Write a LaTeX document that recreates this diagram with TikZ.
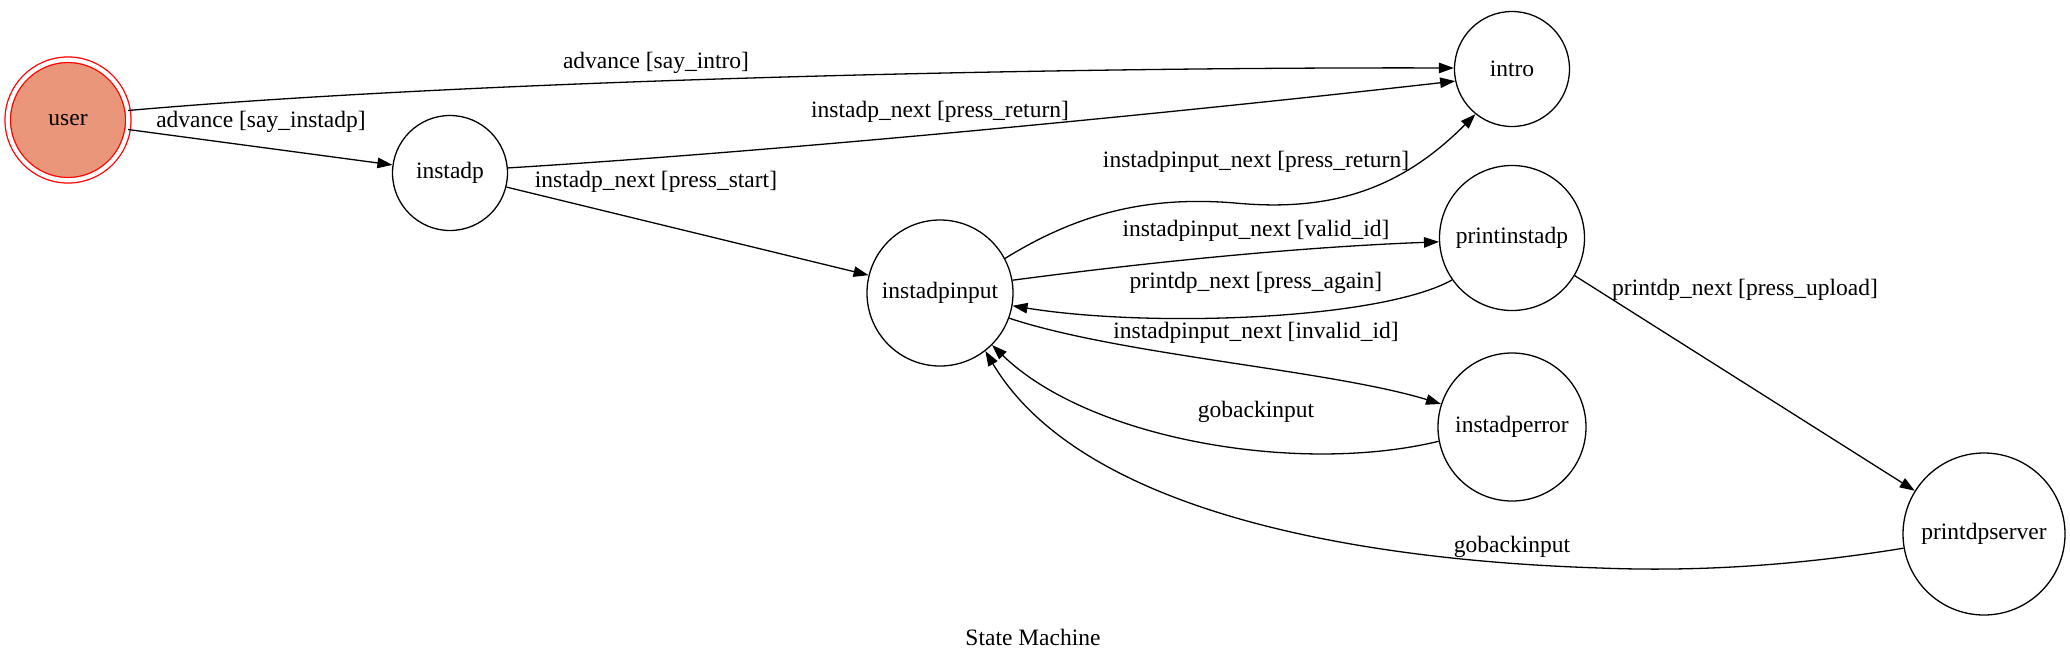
\documentclass[tikz,border=0pt]{standalone}
\usepackage{fontspec}
\setmainfont{Liberation Serif}
\usetikzlibrary{arrows.meta}
\definecolor{salmonfill}{RGB}{233,150,122}
\begin{document}
\begin{tikzpicture}[x=1pt,y=-1pt,
  every node/.style={font=\fontsize{23.5}{28}\selectfont},
  state/.style={circle,draw,line width=1.3pt,inner sep=0pt},
  edge/.style={line width=1.3pt,-{Triangle[length=15pt,width=10.5pt]}},
  lbl/.style={inner sep=0pt,anchor=center}]
\useasboundingbox (0,0) rectangle (2070,659);
% states
\node[state,draw=red,fill=salmonfill,double=white,double distance=4.2pt,minimum size=120.5pt] (user) at (68,120) {user};
\node[state,minimum size=115pt] (instadp) at (450,173) {instadp};
\node[state,minimum size=115pt] (intro) at (1512,69) {intro};
\node[state,minimum size=146pt] (instadpinput) at (940,293) {instadpinput};
\node[state,minimum size=145pt] (printinstadp) at (1512,238) {printinstadp};
\node[state,minimum size=148pt] (instadperror) at (1512,427) {instadperror};
\node[state,minimum size=162pt] (printdpserver) at (1984,534) {printdpserver};
% edges
\draw[edge] (user.9) .. controls (500,78) and (1100,67) .. (intro.179);
\draw[edge] (user.-9) -- (instadp.172);
\draw[edge] (instadp.5) .. controls (800,150) and (1200,110) .. (intro.-168);
\draw[edge] (instadp.-14) -- (instadpinput.166);
\draw[edge] (instadpinput.28) .. controls (1080,212) and (1150,196) .. (1235,203)
  .. controls (1330,212) and (1400,190) .. (intro.-129);
\draw[edge] (instadpinput.10) .. controls (1150,262) and (1300,247) .. (printinstadp.183);
\draw[edge] (printinstadp.215) .. controls (1380,320) and (1150,328) .. (instadpinput.-10);
\draw[edge] (instadpinput.-20) .. controls (1120,355) and (1330,370) .. (instadperror.162);
\draw[edge] (instadperror.191) .. controls (1300,475) and (1090,440) .. (instadpinput.-45);
\draw[edge] (printinstadp.-31) -- (printdpserver.148);
\draw[edge] (printdpserver.190) .. controls (1800,565) and (1700,572) .. (1600,568)
  .. controls (1350,560) and (1080,510) .. (instadpinput.-52);
% labels
\node[lbl] (l1) at (656,63) {advance [say\_intro]};
\node[lbl] (l2) at (261,122) {advance [say\_instadp]};
\node[lbl] (l3) at (940,112) {instadp\_next [press\_return]};
\node[lbl] (l4) at (656,182) {instadp\_next [press\_start]};
\node[lbl] (l5) at (1256,162) {instadpinput\_next [press\_return]};
\node[lbl] (l6) at (1256,231) {instadpinput\_next [valid\_id]};
\node[lbl] (l7) at (1256,283) {printdp\_next [press\_again]};
\node[lbl] (l8) at (1256,333) {instadpinput\_next [invalid\_id]};
\node[lbl] (l9) at (1256,412) {gobackinput};
\node[lbl] (l10) at (1512,547) {gobackinput};
\node[lbl] (l11) at (1745,290) {printdp\_next [press\_upload]};
\node[lbl] (title) at (1033,637) {State Machine};
\end{tikzpicture}
\end{document}
